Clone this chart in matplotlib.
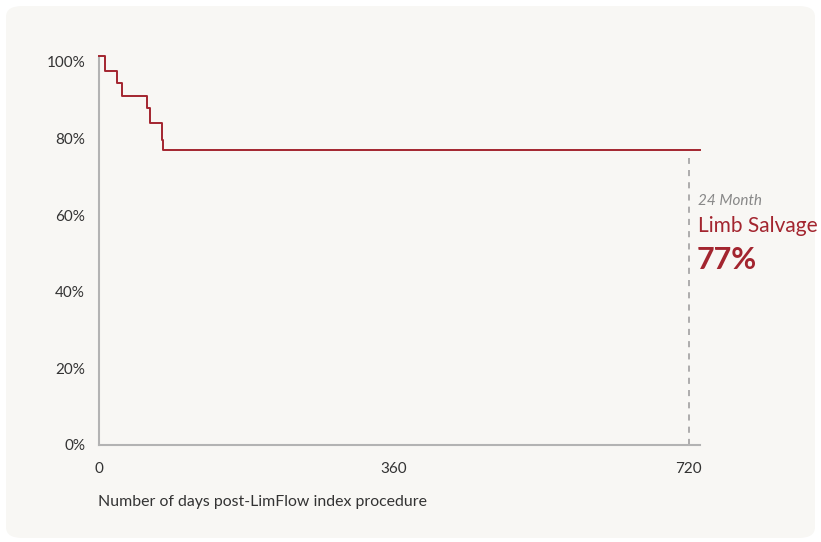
import matplotlib
matplotlib.use("Agg")
import matplotlib.pyplot as plt
from matplotlib.patches import FancyBboxPatch

plt.rcParams['font.family'] = ['Lato', 'DejaVu Sans']

# Data
days = [0, 7, 21.6, 28.5, 58.3, 62, 76.6, 77.9, 734]
survival = [101.5, 97.7, 94.5, 91.2, 88.0, 84.1, 79.7, 77.0, 77.0]
x_ticks = [0, 360, 720]
x_tick_labels = ["0", "360", "720"]
y_ticks = [0, 20, 40, 60, 80, 100]
y_tick_labels = ["0%", "20%", "40%", "60%", "80%", "100%"]
milestone_day = 720
milestone_label = "24 Month"
metric_label = "Limb Salvage"
metric_value = "77%"

RED = "#a3252f"
W, H = 821, 542
fig = plt.figure(figsize=(W / 100, H / 100), dpi=100)
fig.patch.set_facecolor("white")

card = FancyBboxPatch((6 / W, 4 / H), 809 / W, 532 / H,
                      boxstyle="round,pad=0,rounding_size=0.02",
                      transform=fig.transFigure, facecolor="#f8f7f4",
                      edgecolor="none", zorder=-10)
fig.patches.append(card)

ax = fig.add_axes([99 / W, 97 / H, 601 / W, 388 / H], zorder=5)
ax.set_facecolor("none")
ax.step(days, survival, where="post", color=RED, lw=1.4, zorder=3, clip_on=False)
ax.set_xlim(0, 734)
ax.set_ylim(0, 101.3)

for s in ["top", "right"]:
    ax.spines[s].set_visible(False)
for s in ["left", "bottom"]:
    ax.spines[s].set_color("#b3b3b3")
    ax.spines[s].set_linewidth(1.5)

ax.set_xticks(x_ticks, x_tick_labels)
ax.set_yticks(y_ticks, y_tick_labels)
ax.tick_params(axis="both", length=0, labelsize=11, colors="#333333")
ax.tick_params(axis="y", pad=10)
ax.tick_params(axis="x", pad=12)

ax.vlines(milestone_day, 0, 75, colors="#999999", linestyles=(0, (4, 4)), lw=1.1)

fig.text(98 / W, 1 - 502 / H, "Number of days post-LimFlow index procedure",
         ha="left", va="center", fontsize=11.4, color="#333333")

fig.text(698 / W, 1 - 201 / H, milestone_label, ha="left", va="center",
         fontsize=11, style="italic", color="#888888")
fig.text(698 / W, 1 - 226 / H, metric_label, ha="left", va="center",
         fontsize=15, color=RED)
fig.text(697 / W, 1 - 260 / H, metric_value, ha="left", va="center",
         fontsize=22, fontweight="bold", color=RED)

fig.savefig("out.png", dpi=100)
